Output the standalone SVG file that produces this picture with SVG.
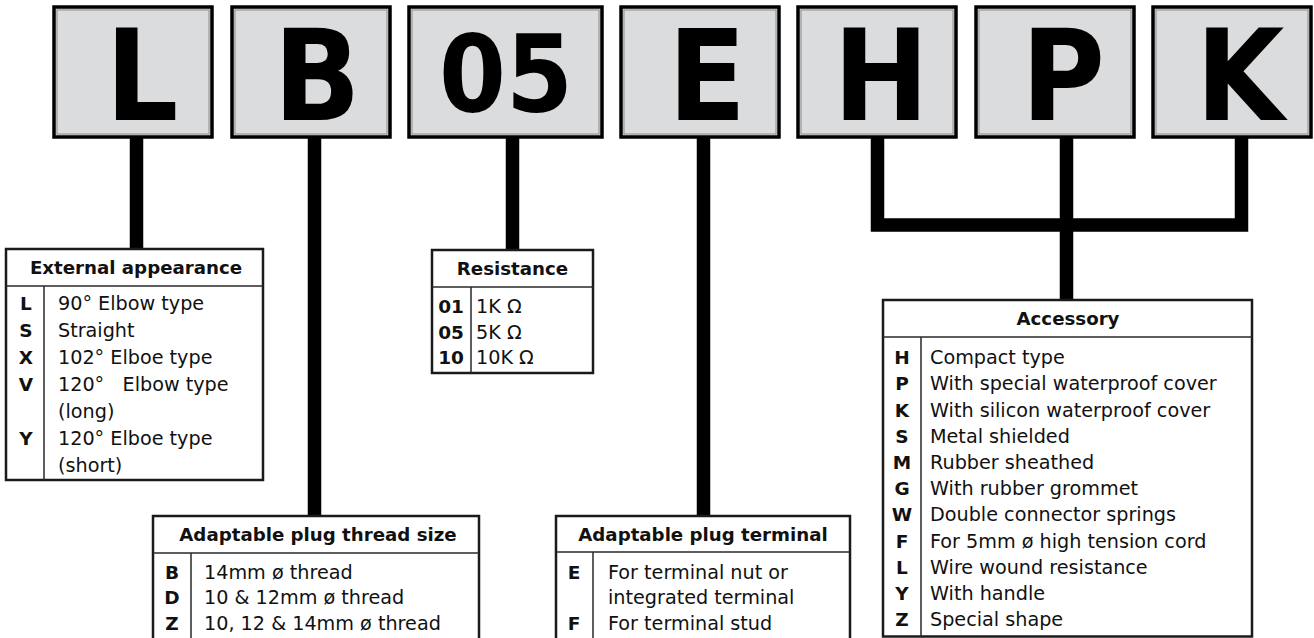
<svg xmlns="http://www.w3.org/2000/svg" width="1314" height="638" viewBox="0 0 1314 638">
<style>
.bg{fill:#ffffff}
.code{fill:#dbdcde;stroke:#000;stroke-width:3.5}
.codein{fill:none;stroke:#8a8a8a;stroke-width:1}
.big{font-family:"DejaVu Sans Condensed","DejaVu Sans",sans-serif;font-stretch:condensed;font-weight:bold;font-size:127px;fill:#000;text-anchor:middle}
.num{font-family:"DejaVu Sans Condensed","DejaVu Sans",sans-serif;font-stretch:condensed;font-weight:bold;font-size:107px;fill:#000;text-anchor:middle}
.tbl{fill:#fff;stroke:#1a1a1a;stroke-width:2.5}
.rule{stroke:#2a2a2a;stroke-width:1.5;fill:none}
.hd{font-family:"DejaVu Sans",sans-serif;font-weight:bold;font-size:18.2px;fill:#111;text-anchor:middle}
.key{font-family:"DejaVu Sans",sans-serif;font-weight:bold;font-size:18.5px;fill:#111;text-anchor:middle}
.tx{font-family:"DejaVu Sans",sans-serif;font-size:19.2px;fill:#111}
.conn{fill:none;stroke:#000;stroke-width:13.5;stroke-linecap:butt;stroke-linejoin:miter}
</style>
<rect class="bg" x="0" y="0" width="1314" height="638"/>

<g id="connectors">
<path class="conn" d="M136.5 137 V249"/>
<path class="conn" d="M314.5 137 V516"/>
<path class="conn" d="M512.5 137 V250"/>
<path class="conn" d="M703.5 137 V516"/>
<path class="conn" d="M877.5 137 V225 H1241.5 V137"/>
<path class="conn" d="M1066.5 137 V300"/>
</g>

<g id="box-L">
<rect class="code" x="54" y="7" width="158" height="130"/>
<rect class="codein" x="57" y="10" width="152" height="124"/>
<text class="big" x="142" y="120">L</text>
</g>
<g id="box-B">
<rect class="code" x="232" y="7" width="158" height="130"/>
<rect class="codein" x="235" y="10" width="152" height="124"/>
<text class="big" x="317" y="120">B</text>
</g>
<g id="box-05">
<rect class="code" x="409" y="7" width="193" height="130"/>
<rect class="codein" x="412" y="10" width="187" height="124"/>
<text class="num" x="506" y="111">05</text>
</g>
<g id="box-E">
<rect class="code" x="621" y="7" width="158" height="130"/>
<rect class="codein" x="624" y="10" width="152" height="124"/>
<text class="big" x="707" y="120">E</text>
</g>
<g id="box-H">
<rect class="code" x="798" y="7" width="158" height="130"/>
<rect class="codein" x="801" y="10" width="152" height="124"/>
<text class="big" x="881" y="120">H</text>
</g>
<g id="box-P">
<rect class="code" x="976" y="7" width="158" height="130"/>
<rect class="codein" x="979" y="10" width="152" height="124"/>
<text class="big" x="1063" y="120">P</text>
</g>
<g id="box-K">
<rect class="code" x="1153" y="7" width="158" height="130"/>
<rect class="codein" x="1156" y="10" width="152" height="124"/>
<text class="big" x="1240" y="120">K</text>
</g>

<g id="table-external">
<rect class="tbl" x="6" y="249" width="257" height="231"/>
<path class="rule" d="M6 286 H263 M44 286 V480"/>
<text class="hd" x="136" y="274">External appearance</text>
<text class="key" x="26" y="310">L</text><text class="tx" x="58" y="310">90° Elbow type</text>
<text class="key" x="26" y="337">S</text><text class="tx" x="58" y="337">Straight</text>
<text class="key" x="26" y="364">X</text><text class="tx" x="58" y="364">102° Elboe type</text>
<text class="key" x="26" y="391">V</text><text class="tx" x="58" y="391">120°&#160;&#160; Elbow type</text>
<text class="tx" x="58" y="418">(long)</text>
<text class="key" x="26" y="445">Y</text><text class="tx" x="58" y="445">120° Elboe type</text>
<text class="tx" x="58" y="472">(short)</text>
</g>

<g id="table-resistance">
<rect class="tbl" x="432" y="250" width="161" height="123"/>
<path class="rule" d="M432 287 H593 M471 287 V373"/>
<text class="hd" x="512.5" y="275">Resistance</text>
<text class="key" x="451" y="313">01</text><text class="tx" x="476" y="313">1K Ω</text>
<text class="key" x="451" y="339">05</text><text class="tx" x="476" y="339">5K Ω</text>
<text class="key" x="451" y="364">10</text><text class="tx" x="476" y="364">10K Ω</text>
</g>

<g id="table-thread">
<rect class="tbl" x="153" y="516" width="326" height="126"/>
<path class="rule" d="M153 553 H479 M191 553 V642"/>
<text class="hd" x="318" y="541">Adaptable plug thread size</text>
<text class="key" x="172" y="579">B</text><text class="tx" x="204" y="579">14mm ø thread</text>
<text class="key" x="172" y="604">D</text><text class="tx" x="204" y="604">10 &amp; 12mm ø thread</text>
<text class="key" x="172" y="630">Z</text><text class="tx" x="204" y="630">10, 12 &amp; 14mm ø thread</text>
</g>

<g id="table-terminal">
<rect class="tbl" x="556" y="516" width="294" height="126"/>
<path class="rule" d="M556 552 H850 M593 552 V642"/>
<text class="hd" x="703" y="541">Adaptable plug terminal</text>
<text class="key" x="574" y="579">E</text><text class="tx" x="608" y="579">For terminal nut or</text>
<text class="tx" x="608" y="604">integrated terminal</text>
<text class="key" x="574" y="630">F</text><text class="tx" x="608" y="630">For terminal stud</text>
</g>

<g id="table-accessory">
<rect class="tbl" x="883" y="300" width="369" height="336.5"/>
<path class="rule" d="M883 337 H1252 M921 337 V636.5"/>
<text class="hd" x="1068" y="325">Accessory</text>
<text class="key" x="902" y="364">H</text><text class="tx" x="930" y="364">Compact type</text>
<text class="key" x="902" y="390">P</text><text class="tx" x="930" y="390">With special waterproof cover</text>
<text class="key" x="902" y="416.5">K</text><text class="tx" x="930" y="416.5">With silicon waterproof cover</text>
<text class="key" x="902" y="442.5">S</text><text class="tx" x="930" y="442.5">Metal shielded</text>
<text class="key" x="902" y="468.5">M</text><text class="tx" x="930" y="468.5">Rubber sheathed</text>
<text class="key" x="902" y="495">G</text><text class="tx" x="930" y="495">With rubber grommet</text>
<text class="key" x="902" y="521">W</text><text class="tx" x="930" y="521">Double connector springs</text>
<text class="key" x="902" y="547.5">F</text><text class="tx" x="930" y="547.5">For 5mm ø high tension cord</text>
<text class="key" x="902" y="573.5">L</text><text class="tx" x="930" y="573.5">Wire wound resistance</text>
<text class="key" x="902" y="600">Y</text><text class="tx" x="930" y="600">With handle</text>
<text class="key" x="902" y="626">Z</text><text class="tx" x="930" y="626">Special shape</text>
</g>
</svg>
